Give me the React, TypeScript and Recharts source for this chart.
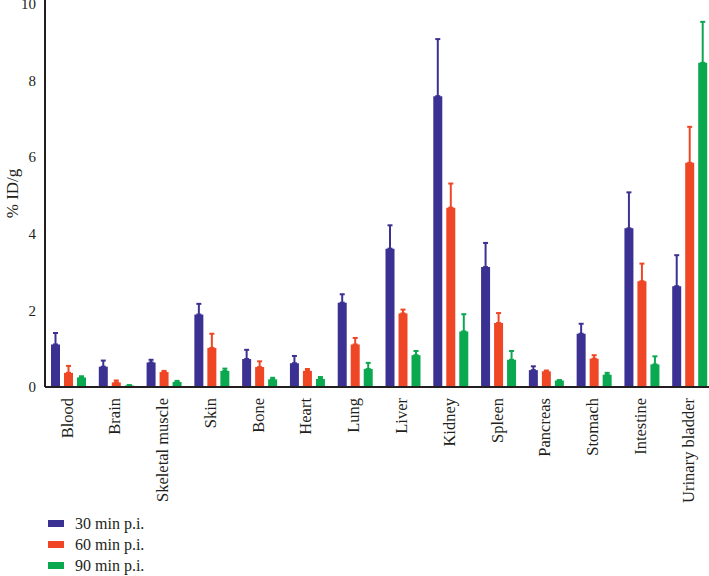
import { BarChart, Bar, XAxis, YAxis, ErrorBar, Legend } from 'recharts';

const organs = [
  'Blood', 'Brain', 'Skeletal muscle', 'Skin', 'Bone', 'Heart', 'Lung',
  'Liver', 'Kidney', 'Spleen', 'Pancreas', 'Stomach', 'Intestine', 'Urinary bladder',
];

// mean %ID/g per time point
const mean30 = [1.11, 0.53, 0.64, 1.89, 0.73, 0.62, 2.2, 3.61, 7.59, 3.13, 0.44, 1.39, 4.14, 2.63];
const mean60 = [0.37, 0.12, 0.39, 1.02, 0.52, 0.42, 1.11, 1.92, 4.68, 1.67, 0.41, 0.74, 2.76, 5.85];
const mean90 = [0.25, 0.04, 0.13, 0.42, 0.2, 0.21, 0.47, 0.83, 1.45, 0.71, 0.17, 0.32, 0.59, 8.46];

// upper error (SD), drawn one-sided
const sd30 = [0.3, 0.16, 0.07, 0.28, 0.24, 0.19, 0.22, 0.61, 1.49, 0.63, 0.1, 0.26, 0.94, 0.81];
const sd60 = [0.18, 0.05, 0.03, 0.37, 0.15, 0.05, 0.17, 0.1, 0.63, 0.26, 0.02, 0.09, 0.46, 0.94];
const sd90 = [0.03, 0.01, 0.03, 0.06, 0.04, 0.05, 0.16, 0.11, 0.45, 0.23, 0.01, 0.05, 0.21, 1.07];

const yTicks = [0, 2, 4, 6, 8, 10];

const colors = {
  blue: '#3b3192',
  red: '#ef4626',
  green: '#0aa84f',
  ink: '#231f20',
};

const font = '"Liberation Serif", "Times New Roman", serif';

const data = organs.map((name, i) => ({
  name,
  m30: mean30[i],
  m60: mean60[i],
  m90: mean90[i],
  e30: [0, sd30[i]],
  e60: [0, sd60[i]],
  e90: [0, sd90[i]],
}));

const OrganTick = ({ x, y, payload }: any) => (
  <g transform={`translate(${x - 2},${y})`}>
    <text
      transform="rotate(-90)"
      textAnchor="end"
      dy="0.34em"
      fontSize={16.5}
      fontFamily={font}
      fill={colors.ink}
    >
      {payload.value}
    </text>
  </g>
);

const renderLegend = ({ payload }: any) => (
  <div style={{ fontFamily: font, fontSize: 16, color: colors.ink }}>
    {(payload || []).map((entry: any) => (
      <div key={entry.value} style={{ display: 'flex', alignItems: 'center', height: 21 }}>
        <span style={{ display: 'inline-block', width: 16, height: 7, background: entry.color, marginRight: 11 }} />
        <span>{entry.value}</span>
      </div>
    ))}
  </div>
);

export default function App() {
  return (
    <div style={{ position: 'absolute', left: 0, top: 0, width: 709, height: 576, overflow: 'hidden', background: '#fff' }}>
      <BarChart
        width={714}
        height={576}
        data={data}
        margin={{ top: 0, right: 0, left: 0, bottom: 0 }}
        barSize={9}
        barGap={4}
      >
        <XAxis
          dataKey="name"
          interval={0}
          height={129}
          tick={<OrganTick />}
          tickLine={false}
          tickSize={6}
          tickMargin={5}
          axisLine={{ stroke: colors.ink, strokeWidth: 2 }}
        />
        <YAxis
          width={45}
          domain={[0, 10.1]}
          ticks={yTicks}
          interval={0}
          tickLine={false}
          tickMargin={3}
          tick={{ fontSize: 15, fontFamily: font, fill: colors.ink }}
          axisLine={{ stroke: colors.ink, strokeWidth: 2 }}
          label={{
            value: '% ID/g',
            angle: -90,
            position: 'insideLeft',
            offset: 12,
            style: { textAnchor: 'middle', fontSize: 17, fontFamily: font, fill: colors.ink },
          }}
        />
        <Legend
          verticalAlign="bottom"
          align="left"
          height={60}
          content={renderLegend}
          wrapperStyle={{ left: 48, top: 513, bottom: 'auto', width: 200, height: 60 }}
        />
        <Bar dataKey="m30" name="30 min p.i." fill={colors.blue} isAnimationActive={false}>
          <ErrorBar dataKey="e30" width={2.5} strokeWidth={2} stroke={colors.blue} direction="y" />
        </Bar>
        <Bar dataKey="m60" name="60 min p.i." fill={colors.red} isAnimationActive={false}>
          <ErrorBar dataKey="e60" width={2.5} strokeWidth={2} stroke={colors.red} direction="y" />
        </Bar>
        <Bar dataKey="m90" name="90 min p.i." fill={colors.green} isAnimationActive={false}>
          <ErrorBar dataKey="e90" width={2.5} strokeWidth={2} stroke={colors.green} direction="y" />
        </Bar>
      </BarChart>
    </div>
  );
}
